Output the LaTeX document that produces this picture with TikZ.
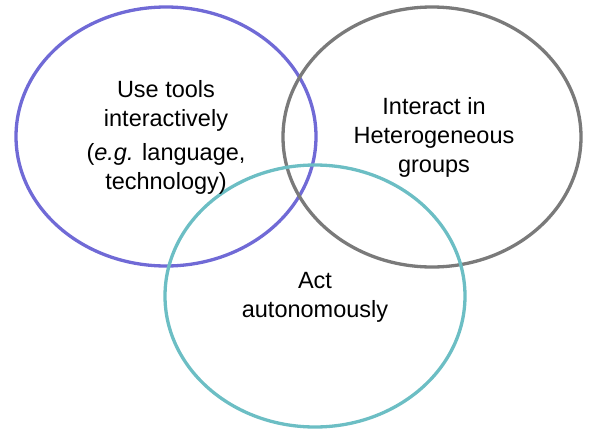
\documentclass[tikz,border=0pt]{standalone}
\usepackage{fontspec}
\setmainfont{Liberation Sans}
\usepackage{tikz}

\begin{document}
\begin{tikzpicture}[x=1pt, y=-1pt]

    \definecolor{toolscolor}{RGB}{112,106,214}
    \definecolor{groupcolor}{RGB}{122,122,122}
    \definecolor{selfcolor}{RGB}{108,190,196}
    \tikzset{
        setline/.style={line width=3.3pt},
        setlabel/.style={align=center, font=\fontsize{23.5}{29}\selectfont, inner sep=0pt}
    }

    \useasboundingbox (0,0) rectangle (590,429);

    \draw[setline, toolscolor] (166,136.5) ellipse (150pt and 129.5pt);
    \draw[setline, groupcolor] (432,137) ellipse (149pt and 130pt);
    \draw[setline, selfcolor] (315,296) ellipse (150pt and 131pt);

    \node[setlabel] (tools) at (166,137) {Use tools\\ interactively\\[5pt] (\emph{e.g.} language,\\ technology)};
    \node[setlabel] (groups) at (434,137) {Interact in\\ Heterogeneous\\ groups};
    \node[setlabel] (self) at (315,297) {Act\\ autonomously};
\end{tikzpicture}
\end{document}
